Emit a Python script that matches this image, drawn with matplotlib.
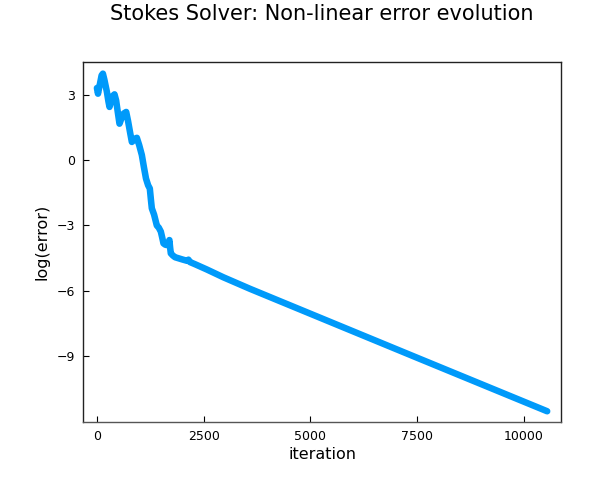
import numpy as np
import matplotlib
matplotlib.use("Agg")
import matplotlib.pyplot as plt

# values
iteration = [0, 25, 70, 110, 140, 175, 234, 270, 295, 330, 370, 412, 450, 490,
             529, 570, 630, 686, 730, 780, 819, 860, 900, 936, 990, 1053, 1100,
             1150, 1200, 1240, 1265, 1287, 1340, 1404, 1450, 1498, 1530, 1560,
             1600, 1638, 1670, 1699, 1715, 1732, 1780, 1833, 1900, 2000, 2107,
             2145, 2180, 2300, 2574, 2963, 3587, 7481, 10555]
log_error = [3.32, 3.06, 3.5, 3.9, 3.98, 3.7, 3.14, 2.7, 2.45, 2.7, 2.95, 3.03,
             2.75, 2.2, 1.68, 1.9, 2.15, 2.22, 1.8, 1.25, 0.84, 0.92, 1.0, 1.03,
             0.7, 0.24, -0.3, -0.84, -1.15, -1.3, -1.8, -2.21, -2.5, -3.0, -3.1,
             -3.28, -3.55, -3.82, -3.88, -3.9, -3.85, -3.67, -4.0, -4.28, -4.38,
             -4.46, -4.5, -4.56, -4.62, -4.57, -4.68, -4.78, -5.02, -5.38, -5.91,
             -9.06, -11.54]
yticks = [3, 0, -3, -6, -9]
xticks = [0, 2500, 5000, 7500, 10000]

fig = plt.figure(figsize=(6, 5), dpi=100)
ax = fig.add_axes([0.139, 0.1566, 0.7955, 0.72])

ax.plot(iteration, log_error, color="#009AFA", lw=4.7,
        solid_capstyle="round", solid_joinstyle="round")

ax.set_xlim(-317, 10872)
ax.set_ylim(-12.02, 4.53)
ax.set_xticks(xticks)
ax.set_yticks(yticks)
ax.tick_params(direction="in", length=4, width=0.8, labelsize=9,
               colors="black", top=False, right=False, pad=6)
for s in ax.spines.values():
    s.set_linewidth(1.0)
    s.set_color("#222222")
ax.spines["bottom"].set_color("#555555")

ax.set_xlabel("iteration", fontsize=11.5, labelpad=3)
ax.set_ylabel("log(error)", fontsize=11.5, labelpad=5)
fig.text(0.537, 0.992, "Stokes Solver: Non-linear error evolution",
         ha="center", va="top", fontsize=15)

fig.savefig("out.png", dpi=100)
